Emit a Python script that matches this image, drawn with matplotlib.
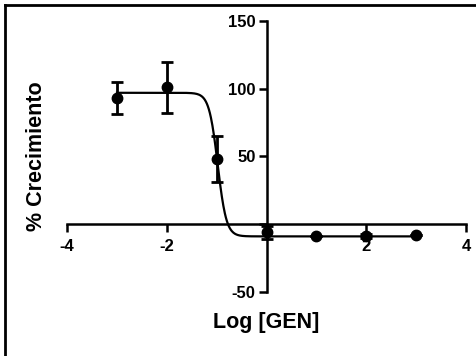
import numpy as np
import matplotlib
matplotlib.use("Agg")
import matplotlib.pyplot as plt
from matplotlib.lines import Line2D

plt.rcParams['font.family'] = ['Liberation Sans', 'DejaVu Sans']
plt.rcParams['font.weight'] = 'bold'

# data
log_gen = [-3, -2, -1, 0, 1, 2, 3]
crecimiento = [93, 101, 48, -6, -8.5, -8.5, -8]
err = [12, 19, 17, 5, 0, 1.5, 0]

# fitted sigmoid parameters
top = 97
bottom = -9
log_ic50 = -0.98
hill = 5

fig = plt.figure(figsize=(4.76, 3.56), dpi=100)
ax = fig.add_axes([0.141, 0.180, 0.838, 0.761])

xc = np.linspace(-3, 3, 600)
yc = bottom + (top - bottom) / (1 + 10 ** ((xc - log_ic50) * hill))
ax.plot(xc, yc, color="black", linewidth=1.6, zorder=2)
ax.errorbar(log_gen, crecimiento, yerr=err, fmt='o', color="black",
            markersize=7.5, elinewidth=2, capsize=4, capthick=2, zorder=3)

ax.set_xlim(-4, 4)
ax.set_ylim(-50, 150)
ax.spines['left'].set_position(('data', 0))
ax.spines['bottom'].set_position(('data', 0))
ax.spines['right'].set_visible(False)
ax.spines['top'].set_visible(False)
for s in ['left', 'bottom']:
    ax.spines[s].set_linewidth(1.8)
ax.set_xticks([-4, -2, 0, 2, 4])
ax.set_xticklabels(['-4', '-2', '', '2', '4'])
ax.set_yticks([-50, 0, 50, 100, 150])
ax.set_yticklabels(['-50', '', '50', '100', '150'])
ax.tick_params(axis='both', direction='out', length=6, width=1.8,
               labelsize=12, pad=2)
ax.tick_params(axis='x', pad=5)
ax.patch.set_visible(False)

ax.set_xlabel("Log [GEN]", fontsize=15.5, fontweight='bold')
ax.set_ylabel("% Crecimiento", fontsize=15.5, fontweight='bold')
ax.xaxis.set_label_coords(0.5, -0.075)
ax.yaxis.set_label_coords(-0.05, 0.5)

# frame lines at the left and top edge of the image
fig.add_artist(Line2D([0.010, 0.010], [0, 0.985], color="black", linewidth=2,
                      transform=fig.transFigure))
fig.add_artist(Line2D([0.010, 1.0], [0.985, 0.985], color="black", linewidth=2,
                      transform=fig.transFigure))

fig.savefig("out.png", dpi=100)
